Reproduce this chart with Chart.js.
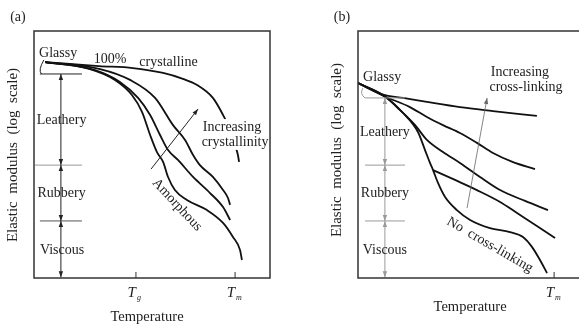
<!DOCTYPE html>
<html lang="en">
<head>
    <meta charset="UTF-8">
    <title>Elastic modulus vs temperature</title>
    <script src="https://cdn.jsdelivr.net/npm/chart.js"></script>
    <style>
        html, body {
            margin: 0;
            padding: 0;
            background: #fff;
            overflow: hidden;
        }
        #wrap {
            position: relative;
            width: 579px;
            height: 325px;
            overflow: hidden;
        }
        canvas {
            position: absolute;
            top: 0;
        }
        #chartA { left: 0; }
        #chartB { left: 290px; }
    </style>
</head>
<body>
<div id="wrap">
    <canvas id="chartA" width="290" height="325"></canvas>
    <canvas id="chartB" width="304" height="325"></canvas>
</div>
<script>
    // ---- panel (a): effect of crystallinity ----
    const tempTicksA = [43.2, 85.2];
    const tempSubsA = ['g', 'm'];

    const crystX = [4.7, 27.5, 41.9, 54.7, 63.1, 69.1, 75.8, 80.1, 83.1, 85.2, 86.4, 86.9];
    const crystY = [87.4, 85.8, 85.0, 83.0, 80.6, 78.1, 72.9, 66.0, 59.9, 53.8, 49.8, 47.0];
    const highX = [4.7, 28.0, 40.7, 51.3, 58.9, 64.0, 67.4, 70.3, 75.8, 80.1, 82.2, 83.1];
    const highY = [87.4, 84.6, 80.2, 72.9, 61.9, 55.9, 49.8, 45.7, 40.9, 35.6, 32.4, 29.6];
    const lowX = [4.7, 25.8, 36.4, 44.1, 49.2, 53.4, 56.8, 61.0, 67.4, 74.6, 80.1, 83.1];
    const lowY = [87.4, 84.2, 79.4, 72.9, 66.0, 57.9, 51.8, 47.8, 40.9, 34.4, 28.7, 23.5];
    const amorX = [4.7, 23.7, 34.3, 41.5, 45.8, 49.2, 52.1, 54.7, 56.8, 59.7, 64.8, 73.3, 80.1, 84.3, 87.3, 88.1];
    const amorY = [87.4, 84.6, 80.2, 74.1, 67.2, 57.9, 51.0, 47.0, 40.9, 35.6, 31.6, 27.5, 22.3, 16.6, 11.3, 7.3];

    // ---- panel (b): effect of cross-linking ----
    const tempTicksB = [83.1];
    const tempSubsB = ['m'];

    const topX = [0, 11.4, 19.1, 29.2, 43.2, 57.2, 75.8];
    const topY = [78.9, 74.0, 72.9, 71.3, 69.2, 67.6, 65.6];
    const c2X = [0, 11.4, 22.0, 29.2, 36.0, 43.2, 50.4, 57.2, 65.7, 75.0];
    const c2Y = [78.9, 73.5, 69.2, 65.2, 61.9, 58.7, 54.7, 50.6, 46.9, 44.1];
    const c3X = [0, 11.4, 17.8, 24.2, 29.2, 36.0, 43.2, 51.7, 60.2, 70.8, 80.5];
    const c3Y = [78.9, 73.5, 68.0, 61.9, 55.9, 51.0, 46.6, 40.9, 35.6, 31.2, 27.5];
    const c4X = [31.8, 41.1, 50.4, 60.2, 67.4, 75.8, 83.5];
    const c4Y = [43.7, 39.7, 35.6, 30.8, 26.3, 21.1, 16.2];
    const noX = [0, 11.4, 19.1, 25.4, 28.4, 30.5, 31.8, 33.9, 36.9, 41.9, 47.5, 55.9, 64.4, 69.9, 73.7, 77.1, 80.1];
    const noY = [78.9, 73.5, 66.8, 59.1, 51.8, 46.6, 43.7, 38.5, 32.8, 27.5, 23.5, 20.2, 18.6, 16.6, 12.6, 7.3, 2.0];

    const SERIF = '"Liberation Serif", "DejaVu Serif", serif';

    function pts(xs, ys) {
        return xs.map((x, i) => ({ x: x, y: ys[i] }));
    }

    function curve(xs, ys) {
        return {
            data: pts(xs, ys),
            showLine: true,
            borderColor: '#111',
            borderWidth: 1.8,
            pointRadius: 0,
            fill: false,
            cubicInterpolationMode: 'monotone'
        };
    }

    function arrowHead(ctx, x1, y1, x2, y2) {
        const ang = Math.atan2(y2 - y1, x2 - x1);
        const len = 6, half = 2.2;
        const bx = x2 - len * Math.cos(ang), by = y2 - len * Math.sin(ang);
        ctx.beginPath();
        ctx.moveTo(x2, y2);
        ctx.lineTo(bx + half * Math.sin(ang), by - half * Math.cos(ang));
        ctx.lineTo(bx - half * Math.sin(ang), by + half * Math.cos(ang));
        ctx.closePath();
        ctx.fill();
    }

    // draws frame, inner ticks, labels, arrows from the plugin options (data units)
    const sketchPlugin = {
        id: 'sketch',
        afterDatasetsDraw(chart, args, o) {
            const { ctx, chartArea: a } = chart;
            const sx = chart.scales.x, sy = chart.scales.y;
            const px = v => sx.getPixelForValue(v);
            const py = v => sy.getPixelForValue(v);
            ctx.save();

            // plain lines (level marks, brackets)
            (o.lines || []).forEach(l => {
                ctx.strokeStyle = l.color;
                ctx.lineWidth = l.w || 1;
                ctx.beginPath();
                if (l.quad) {
                    ctx.moveTo(px(l.quad[0][0]), py(l.quad[0][1]));
                    ctx.quadraticCurveTo(px(l.quad[1][0]), py(l.quad[1][1]), px(l.quad[2][0]), py(l.quad[2][1]));
                } else {
                    ctx.moveTo(px(l.from[0]), py(l.from[1]));
                    ctx.lineTo(px(l.to[0]), py(l.to[1]));
                }
                ctx.stroke();
            });

            // arrows
            (o.arrows || []).forEach(ar => {
                const x1 = px(ar.from[0]), y1 = py(ar.from[1]);
                const x2 = px(ar.to[0]), y2 = py(ar.to[1]);
                ctx.strokeStyle = ar.color;
                ctx.fillStyle = ar.color;
                ctx.lineWidth = ar.w || 1;
                ctx.beginPath();
                ctx.moveTo(x1, y1);
                ctx.lineTo(x2, y2);
                ctx.stroke();
                arrowHead(ctx, x1, y1, x2, y2);
                if (ar.both) arrowHead(ctx, x2, y2, x1, y1);
            });

            // texts
            (o.texts || []).forEach(t => {
                ctx.save();
                ctx.translate(px(t.x), py(t.y));
                if (t.rot) ctx.rotate(t.rot * Math.PI / 180);
                ctx.font = (t.italic ? 'italic ' : '') + (t.size || 14) + 'px ' + SERIF;
                ctx.textAlign = 'center';
                ctx.textBaseline = 'middle';
                if (t.bg) {
                    const w = ctx.measureText(t.t).width;
                    ctx.fillStyle = '#fff';
                    ctx.fillRect(-w / 2 - 1, -8, w + 2, 16);
                }
                ctx.fillStyle = '#222';
                ctx.fillText(t.t, 0, 0);
                ctx.restore();
            });

            // frame
            ctx.strokeStyle = '#333';
            ctx.lineWidth = 1.5;
            ctx.strokeRect(a.left, a.top, a.right - a.left, a.bottom - a.top);

            // inner tick marks with T labels
            ctx.lineWidth = 1;
            ctx.fillStyle = '#222';
            ctx.textBaseline = 'alphabetic';
            sx.ticks.forEach((tk, i) => {
                const xx = px(tk.value);
                ctx.beginPath();
                ctx.moveTo(xx, a.bottom);
                ctx.lineTo(xx, a.bottom - 6);
                ctx.stroke();
                ctx.font = 'italic 15px ' + SERIF;
                ctx.textAlign = 'right';
                ctx.fillText('T', xx, a.bottom + 19);
                ctx.font = 'italic 8px ' + SERIF;
                ctx.textAlign = 'left';
                ctx.fillText(o.subs[i], xx + 1, a.bottom + 22);
            });

            ctx.restore();
        }
    };

    function makeChart(id, datasets, ticks, pad, extra) {
        return new Chart(document.getElementById(id), {
            type: 'scatter',
            data: { datasets: datasets },
            options: {
                responsive: false,
                animation: false,
                layout: { padding: pad },
                plugins: {
                    legend: { display: false },
                    tooltip: { enabled: false },
                    sketch: extra
                },
                scales: {
                    x: {
                        type: 'linear', min: 0, max: 100,
                        afterBuildTicks: s => { s.ticks = ticks.map(v => ({ value: v })); },
                        ticks: { display: false },
                        grid: { display: false, drawTicks: false },
                        border: { display: false }
                    },
                    y: {
                        type: 'linear', min: 0, max: 100,
                        ticks: { display: false },
                        grid: { display: false, drawTicks: false },
                        border: { display: false }
                    }
                }
            },
            plugins: [sketchPlugin]
        });
    }

    const GRAY = '#999';
    const DARK = '#222';

    makeChart('chartA',
        [curve(crystX, crystY), curve(highX, highY), curve(lowX, lowY), curve(amorX, amorY)],
        tempTicksA,
        { left: 34, top: 31, right: 20, bottom: 47 },
        {
            subs: tempSubsA,
            lines: [
                { quad: [[4.2, 88.3], [1.6, 84.0], [3.2, 82.6]], color: DARK },
                { from: [2.5, 82.6], to: [20.3, 82.6], color: DARK },
                { from: [0.4, 45.7], to: [20.3, 45.7], color: GRAY },
                { from: [2.5, 23.1], to: [20.3, 23.1], color: '#555' }
            ],
            arrows: [
                { from: [11.4, 82.6], to: [11.4, 45.7], color: DARK, both: true },
                { from: [11.4, 45.7], to: [11.4, 23.1], color: DARK, both: true },
                { from: [11.4, 23.1], to: [11.4, 0.3], color: DARK, both: true },
                { from: [49.6, 44.1], to: [69.5, 68.4], color: DARK }
            ],
            texts: [
                { t: '(a)', x: -6.8, y: 105.7 },
                { t: 'Glassy', x: 10.2, y: 91.1 },
                { t: '100%', x: 32.2, y: 88.7 },
                { t: 'crystalline', x: 57.0, y: 87.4 },
                { t: 'Leathery', x: 11.7, y: 64.0 },
                { t: 'Rubbery', x: 11.7, y: 34.4 },
                { t: 'Viscous', x: 11.9, y: 11.3 },
                { t: 'Increasing', x: 83.9, y: 61.1, bg: true },
                { t: 'crystallinity', x: 85.2, y: 55.1, bg: true },
                { t: 'Amorphous', x: 60.6, y: 29.6, rot: 47 },
                { t: 'Temperature', x: 47.9, y: -15.8, size: 14.5 },
                { t: 'Elastic  modulus  (log  scale)', x: -8.9, y: 49.8, rot: -90, size: 15 }
            ]
        });

    makeChart('chartB',
        [curve(topX, topY), curve(c2X, c2Y), curve(c3X, c3Y), curve(c4X, c4Y), curve(noX, noY)],
        tempTicksB,
        { left: 68, top: 31, right: 0, bottom: 47 },
        {
            subs: tempSubsB,
            lines: [
                { quad: [[2.1, 76.9], [0.6, 74.5], [3.0, 72.9]], color: GRAY },
                { from: [3.0, 72.9], to: [19.9, 72.9], color: GRAY },
                { from: [3.0, 45.7], to: [19.9, 45.7], color: GRAY },
                { from: [3.0, 23.1], to: [19.9, 23.1], color: GRAY }
            ],
            arrows: [
                { from: [11.4, 72.9], to: [11.4, 45.7], color: GRAY, both: true },
                { from: [11.4, 45.7], to: [11.4, 23.1], color: GRAY, both: true },
                { from: [11.4, 23.1], to: [11.4, 0.3], color: GRAY, both: true },
                { from: [46.2, 28.3], to: [54.7, 72.9], color: '#666', w: 0.8 }
            ],
            texts: [
                { t: '(b)', x: -6.8, y: 105.7 },
                { t: 'Glassy', x: 10.2, y: 81.4 },
                { t: 'Leathery', x: 11.4, y: 59.1 },
                { t: 'Rubbery', x: 11.4, y: 34.4 },
                { t: 'Viscous', x: 11.4, y: 11.3 },
                { t: 'Increasing', x: 68.6, y: 83.4 },
                { t: 'cross-linking', x: 71.2, y: 77.3 },
                { t: 'No  cross-linking', x: 55.9, y: 13.4, rot: 30 },
                { t: 'Temperature', x: 47.5, y: -11.7, size: 14.5 },
                { t: 'Elastic  modulus  (log  scale)', x: -9.0, y: 51.8, rot: -90, size: 15 }
            ]
        });
</script>
</body>
</html>
